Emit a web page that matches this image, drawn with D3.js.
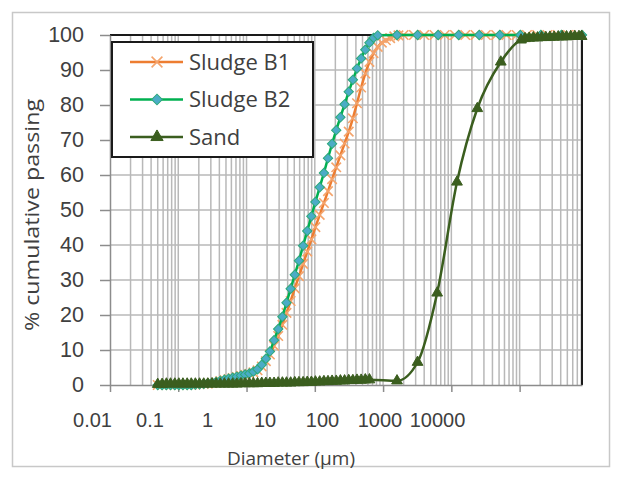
<!DOCTYPE html>
<html lang="en">
<head>
	<meta charset="utf-8">
	<title>Particle size distribution</title>
	<script src="https://cdn.jsdelivr.net/npm/d3@7/dist/d3.min.js"></script>
	<style>
		body { margin: 0; background: #fff; }
		svg { font-family: "Open Sans", sans-serif; }
		.grid line { stroke: #b8b8b8; stroke-width: 1.5; }
		.axis path, .axis line { stroke: #8c8c8c; stroke-width: 1.5; }
		.axis text { fill: #404040; }
	</style>
</head>
<body>
	<svg id="chart" width="621" height="477"></svg>
	<script>
		// Sludge B1 (orange, x markers)
		var b1Size = [0.050,0.058,0.067,0.077,0.089,0.102,0.117,0.135,0.155,0.178,0.205,0.236,0.271,0.312,0.359,0.412,0.474,0.545,0.627,0.721,
			0.829,0.953,1.10,1.26,1.45,1.67,1.92,2.20,2.53,2.91,3.35,3.85,4.43,5.09,5.86,6.74,7.75,8.91,10.2,11.8,
			13.6,15.6,17.9,20.6,23.7,27.3,31.4,36.1,41.5,47.7,54.9,63.1,72.6,83.5,96.0,110,127,146,168,
			200,283,400,566,800,1130,1600,2260,3200,4530,6400,9050,12800,18100,25600,36200,51200,72400];
		var b1Pass = [0,0,0,0,0,0,0,0,0,0.1,0.2,0.3,0.4,0.6,0.8,1.1,1.4,1.7,2.0,2.3,
			2.6,2.9,3.2,3.6,4.2,5.3,6.8,8.7,11.2,14.0,17.2,20.6,24.0,27.6,31.1,34.6,38.1,41.6,45.1,48.6,
			52.0,55.4,58.8,62.2,65.6,69.0,72.4,76.2,80.5,85.0,89.0,92.3,94.8,96.6,97.8,98.5,99.1,99.6,99.9,
			100,100,100,100,100,100,100,100,100,100,100,100,100,100,100,100,100,100];

		// Sludge B2 (green line, blue diamonds)
		var b2Size = [0.050,0.058,0.067,0.077,0.089,0.102,0.117,0.135,0.155,0.178,0.205,0.236,0.271,0.312,0.359,0.412,0.474,0.545,0.627,0.721,
			0.829,0.953,1.10,1.26,1.45,1.67,1.92,2.20,2.53,2.91,3.35,3.85,4.43,5.09,5.86,6.74,7.75,8.91,10.2,11.8,
			13.6,15.6,17.9,20.6,23.7,27.3,31.4,36.1,41.5,47.7,54.9,63.1,72.6,83.5,
			160,320,640,1280,2560,5120,10240,20480,40960,81920];
		var b2Pass = [0,0,0,0,0,0,0,0,0,0.1,0.2,0.3,0.5,0.7,0.9,1.2,1.5,1.8,2.1,2.4,
			2.7,3.0,3.3,3.8,4.5,5.8,7.5,9.6,12.8,16.0,19.5,23.5,27.5,31.5,35.5,39.8,44.0,48.2,52.3,56.5,
			60.6,64.8,68.9,72.8,76.5,80.2,83.8,87.2,90.4,93.3,95.8,97.8,99.2,99.9,
			100,100,100,100,100,100,100,100,100,100];

		// Sand (dark green, triangles)
		var sandSize = [0.050,0.058,0.067,0.077,0.089,0.102,0.117,0.135,0.155,0.178,0.205,0.236,0.271,0.312,0.359,0.412,0.474,0.545,0.627,0.721,
			0.829,0.953,1.10,1.26,1.45,1.67,1.92,2.20,2.53,2.91,3.35,3.85,4.43,5.09,5.86,6.74,7.75,8.91,10.2,11.8,
			13.6,15.6,17.9,20.6,23.7,27.3,31.4,36.1,41.5,47.7,54.9,63.1,
			160,320,620,1210,2400,5300,10500,
			12000,13800,15900,18300,21000,24200,27800,32000,36800,42300,48700,56000,64400,74000,81000];
		var sandPass = [0.2,0.2,0.3,0.3,0.3,0.3,0.3,0.3,0.3,0.3,0.3,0.3,0.3,0.3,0.3,0.3,0.3,0.3,0.3,0.3,
			0.4,0.4,0.4,0.4,0.4,0.5,0.5,0.5,0.5,0.6,0.6,0.6,0.6,0.7,0.7,0.7,0.8,0.8,0.9,0.9,
			1.0,1.0,1.1,1.1,1.2,1.2,1.3,1.3,1.4,1.4,1.5,1.5,
			1.2,6.5,26.3,58,79,92.3,98.6,
			99.0,99.1,99.2,99.2,99.3,99.3,99.4,99.4,99.5,99.5,99.5,99.6,99.6,99.6,99.6];

		var xTickLabels = [0.01,0.1,1,10,100,1000,10000];
		var yTicks = [0,10,20,30,40,50,60,70,80,90,100];

		var svg = d3.select("#chart");

		var plotLeft = 110, plotRight = 582, plotTop = 35, plotBottom = 385;

		var x = d3.scaleLog().domain([0.01, 82000]).range([plotLeft, plotRight]),
			y = d3.scaleLinear().domain([0, 100]).range([plotBottom, plotTop]);
		// the tick labels in the picture sit on their own, narrower spacing
		var xLab = d3.scaleLog().domain([0.01, 10000]).range([92, 437]);

		// outer frame
		svg.append("rect")
			.attr("x", 12.5).attr("y", 12.5)
			.attr("width", 597).attr("height", 454)
			.attr("fill", "#fff")
			.attr("stroke", "#c8c8c8")
			.attr("stroke-width", 1.5);

		// gridlines
		var grid = svg.append("g").attr("class", "grid");
		grid.selectAll(".vg")
			.data(x.ticks().filter(function(d) { return d > 0.01; }))
			.enter().append("line")
			.attr("x1", function(d) { return x(d); })
			.attr("x2", function(d) { return x(d); })
			.attr("y1", plotTop).attr("y2", plotBottom);
		grid.selectAll(".hg")
			.data(yTicks.slice(1))
			.enter().append("line")
			.attr("x1", plotLeft).attr("x2", plotRight)
			.attr("y1", function(d) { return y(d); })
			.attr("y2", function(d) { return y(d); });

		// plot border top / right
		svg.append("path")
			.attr("d", "M" + plotLeft + "," + plotTop + "H" + plotRight + "V" + plotBottom)
			.attr("fill", "none")
			.attr("stroke", "#1a1a1a")
			.attr("stroke-width", 2);

		// y axis
		svg.append("g")
			.attr("class", "axis")
			.attr("transform", "translate(" + plotLeft + ",0)")
			.call(d3.axisLeft(y).tickValues(yTicks).tickSize(10).tickSizeOuter(0).tickPadding(16))
			.selectAll("text")
			.style("font-size", "21.5px");

		// x axis: tick marks at decades
		svg.append("g")
			.attr("class", "axis")
			.attr("transform", "translate(0," + plotBottom + ")")
			.call(d3.axisBottom(x).tickValues(xTickLabels).tickSize(7).tickSizeOuter(0).tickFormat(""));

		// x axis labels
		var xl = svg.append("g")
			.attr("class", "axis")
			.attr("transform", "translate(0," + plotBottom + ")")
			.call(d3.axisBottom(xLab).tickValues(xTickLabels).tickSize(0).tickPadding(28)
				.tickFormat(function(d) { return String(d); }));
		xl.select(".domain").remove();
		xl.selectAll("text").style("font-size", "20px");

		// axis titles
		svg.append("text")
			.attr("transform", "translate(32,215) rotate(-90)")
			.attr("text-anchor", "middle")
			.attr("dy", "0.35em")
			.attr("textLength", 232)
			.attr("lengthAdjust", "spacingAndGlyphs")
			.style("font-size", "20px")
			.attr("fill", "#404040")
			.text("% cumulative passing");

		svg.append("text")
			.attr("x", 291).attr("y", 458)
			.attr("text-anchor", "middle")
			.attr("dy", "0.35em")
			.style("font-size", "19px")
			.attr("fill", "#404040")
			.text("Diameter (\u00b5m)");

		// series
		var series = [
			{ name: "Sludge B1", size: b1Size, pass: b1Pass, line: "#ED7D31",
				sym: d3.symbolTimes || d3.symbolCross, symSize: 60, rot: d3.symbolTimes ? 0 : 45,
				fill: "none", stroke: "#F4A46C", sw: 1.6 },
			{ name: "Sludge B2", size: b2Size, pass: b2Pass, line: "#00B050",
				sym: d3.symbolSquare, symSize: 44, rot: 45,
				fill: "#4BACC6", stroke: "#2CA87A", sw: 1 },
			{ name: "Sand", size: sandSize, pass: sandPass, line: "#3B5E1F",
				sym: d3.symbolTriangle, symSize: 50, rot: 0,
				fill: "#3B5E1F", stroke: "#3B5E1F", sw: 1 }
		];

		var line = d3.line()
			.curve(d3.curveMonotoneX)
			.x(function(d) { return x(d[0]); })
			.y(function(d) { return y(d[1]); });

		series.forEach(function(s) {
			var pts = d3.zip(s.size, s.pass);
			var g = svg.append("g");
			g.append("path")
				.datum(pts)
				.attr("d", line)
				.attr("fill", "none")
				.attr("stroke", s.line)
				.attr("stroke-width", 2.5);
			g.selectAll(".m")
				.data(pts)
				.enter().append("path")
				.attr("transform", function(d) { return "translate(" + x(d[0]) + "," + y(d[1]) + ") rotate(" + s.rot + ")"; })
				.attr("d", d3.symbol().type(s.sym).size(s.symSize))
				.attr("fill", s.fill)
				.attr("stroke", s.stroke)
				.attr("stroke-width", s.sw);
		});

		// legend
		var lg = svg.append("g");
		lg.append("rect")
			.attr("x", 112).attr("y", 42)
			.attr("width", 201).attr("height", 115)
			.attr("fill", "#fff")
			.attr("stroke", "#1a1a1a")
			.attr("stroke-width", 2);
		var ly = d3.scalePoint().domain(series.map(function(s) { return s.name; })).range([62, 137]);
		series.forEach(function(s) {
			var yy = ly(s.name);
			lg.append("line")
				.attr("x1", 130).attr("x2", 183)
				.attr("y1", yy).attr("y2", yy)
				.attr("stroke", s.line)
				.attr("stroke-width", 2.5);
			lg.append("path")
				.attr("transform", "translate(157," + yy + ") rotate(" + s.rot + ")")
				.attr("d", d3.symbol().type(s.sym).size(s.symSize * 1.3))
				.attr("fill", s.fill)
				.attr("stroke", s.stroke)
				.attr("stroke-width", s.sw);
			lg.append("text")
				.attr("x", 189).attr("y", yy)
				.attr("dy", "0.35em")
				.style("font-size", "22px")
				.attr("fill", "#404040")
				.text(s.name);
		});
	</script>
</body>
</html>
